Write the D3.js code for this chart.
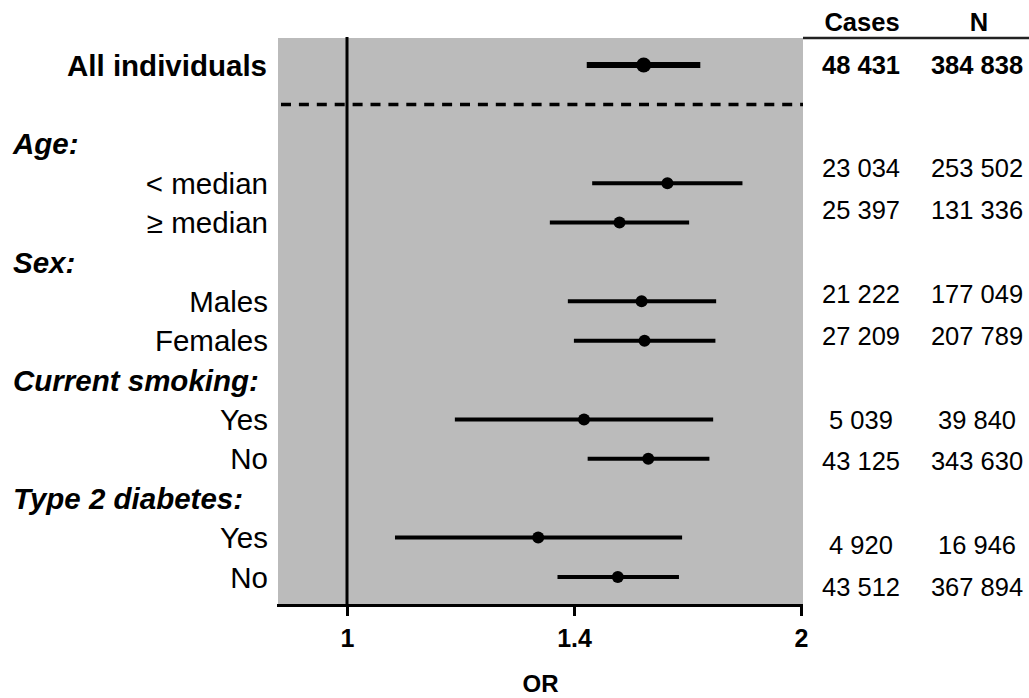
<!DOCTYPE html>
<html>
<head>
<meta charset="utf-8">
<script src="https://cdn.jsdelivr.net/npm/d3@7"></script>
<style>
  html, body { margin: 0; padding: 0; background: #fff; }
  svg { display: block; font-family: "Liberation Sans", Arial, sans-serif; }
</style>
</head>
<body>
<svg id="chart" width="1029" height="698"></svg>
<script>
// overall estimate
const overallLabel = 'All individuals';
const overallOR = [1.573, 1.442, 1.715]; // OR, lower, upper
const overallCases = 48431;
const overallN = 384838;

// subgroups
const groupLabels = ['Age:', 'Sex:', 'Current smoking:', 'Type 2 diabetes:'];
const subgroupLabels = ['< median', '\u2265 median', 'Males', 'Females', 'Yes', 'No', 'Yes', 'No'];
const subgroupGroup = [0, 0, 1, 1, 2, 2, 3, 3];
const orValues = [1.631, 1.516, 1.568, 1.575, 1.436, 1.584, 1.339, 1.512];
const ciLower = [1.454, 1.363, 1.401, 1.414, 1.179, 1.444, 1.076, 1.379];
const ciUpper = [1.829, 1.686, 1.757, 1.755, 1.749, 1.739, 1.668, 1.660];
const cases = [23034, 25397, 21222, 27209, 5039, 43125, 4920, 43512];
const totals = [253502, 131336, 177049, 207789, 39840, 343630, 16946, 367894];

// axis
const tickValues = [1, Math.SQRT2, 2];
const tickLabels = ['1', '1.4', '2'];
const axisTitle = 'OR';
const tableHeaders = ['Cases', 'N'];

const svg = d3.select('#chart');
const W = 1029;

const x = d3.scaleLog().domain([0.9, 2]).range([278, 801]);
const y = d3.scaleLinear().domain([0, 13]).range([65, 577]);      // label rows
const yTable = d3.scaleLinear().domain([3, 13]).range([168, 587]); // numbers drift a little
const panelTop = 38, panelBottom = 605, panelRight = 803;
const casesX = 861, nX = 977;
const labelSize = '29.5px', tableSize = '25.5px';

const fmt = d3.formatLocale({ decimal: '.', thousands: ' ', grouping: [3], currency: ['', ''] }).format(',d');

// subgroup rows -> row index
const subRow = subgroupLabels.map((d, i) => 3 + subgroupGroup[i] * 3 + (i % 2));

// gray panel
svg.append('rect')
    .attr('x', x(0.9)).attr('y', panelTop)
    .attr('width', panelRight - x(0.9)).attr('height', panelBottom - panelTop)
    .attr('fill', '#bbbbbb');

// dashed separator
svg.append('line')
    .attr('x1', x(0.9) + 3).attr('x2', panelRight)
    .attr('y1', y(1)).attr('y2', y(1))
    .attr('stroke', '#000').attr('stroke-width', 3.5)
    .attr('stroke-dasharray', '10,7.9');

// reference line at OR = 1
svg.append('line')
    .attr('x1', x(1)).attr('x2', x(1))
    .attr('y1', panelTop - 1).attr('y2', panelBottom)
    .attr('stroke', '#000').attr('stroke-width', 3);

// header rule for the table
svg.append('line')
    .attr('x1', panelRight).attr('x2', W)
    .attr('y1', panelTop).attr('y2', panelTop)
    .attr('stroke', '#222').attr('stroke-width', 2.5);

// x axis
const axis = svg.append('g')
    .attr('transform', `translate(0,${panelBottom})`)
    .call(d3.axisBottom(x).tickValues(tickValues).tickFormat((d, i) => tickLabels[i]).tickSize(11).tickSizeOuter(0));
axis.select('.domain').attr('stroke', '#000').attr('stroke-width', 3).attr('stroke-linecap', 'square');
axis.selectAll('.tick line').attr('stroke', '#000').attr('stroke-width', 3);
axis.selectAll('.tick text')
    .attr('y', 42).attr('dy', null)
    .attr('fill', '#000')
    .style('font-size', '25px').style('font-weight', 'bold')
    .style('font-family', '"Liberation Sans", Arial, sans-serif');

svg.append('text')
    .attr('x', (x(0.9) + panelRight) / 2).attr('y', 692)
    .attr('text-anchor', 'middle')
    .style('font-size', '24px').style('font-weight', 'bold')
    .text(axisTitle);

// overall row
svg.append('text')
    .attr('x', 267).attr('y', y(0)).attr('dy', '0.36em')
    .attr('text-anchor', 'end')
    .style('font-size', labelSize).style('font-weight', 'bold')
    .text(overallLabel);

svg.append('line')
    .attr('x1', x(overallOR[1])).attr('x2', x(overallOR[2]))
    .attr('y1', y(0)).attr('y2', y(0))
    .attr('stroke', '#000').attr('stroke-width', 6);
svg.append('circle')
    .attr('cx', x(overallOR[0])).attr('cy', y(0)).attr('r', 7.5)
    .attr('fill', '#000');

// group headers
svg.selectAll('text.group')
    .data(groupLabels)
    .join('text')
    .attr('class', 'group')
    .attr('x', 13).attr('y', (d, i) => y(2 + i * 3)).attr('dy', '0.36em')
    .style('font-size', labelSize).style('font-weight', 'bold').style('font-style', 'italic')
    .text(d => d);

// subgroup labels
svg.selectAll('text.sub')
    .data(subgroupLabels)
    .join('text')
    .attr('class', 'sub')
    .attr('x', 268).attr('y', (d, i) => y(subRow[i])).attr('dy', '0.36em')
    .attr('text-anchor', 'end')
    .style('font-size', labelSize)
    .text(d => d);

// CI whiskers
svg.selectAll('line.ci')
    .data(orValues)
    .join('line')
    .attr('class', 'ci')
    .attr('x1', (d, i) => x(ciLower[i])).attr('x2', (d, i) => x(ciUpper[i]))
    .attr('y1', (d, i) => y(subRow[i])).attr('y2', (d, i) => y(subRow[i]))
    .attr('stroke', '#000').attr('stroke-width', 4);

svg.selectAll('circle.pt')
    .data(orValues)
    .join('circle')
    .attr('class', 'pt')
    .attr('cx', d => x(d)).attr('cy', (d, i) => y(subRow[i])).attr('r', 6)
    .attr('fill', '#000');

// table
svg.selectAll('text.head')
    .data(tableHeaders)
    .join('text')
    .attr('class', 'head')
    .attr('x', (d, i) => i ? nX + 2 : casesX + 1).attr('y', 31)
    .attr('text-anchor', 'middle')
    .style('font-size', tableSize).style('font-weight', 'bold')
    .text(d => d);

[[overallCases, casesX], [overallN, nX]].forEach(([v, cx]) => {
    svg.append('text')
        .attr('x', cx).attr('y', y(0)).attr('dy', '0.36em')
        .attr('text-anchor', 'middle')
        .style('font-size', tableSize).style('font-weight', 'bold')
        .text(fmt(v));
});

svg.selectAll('text.cases')
    .data(cases)
    .join('text')
    .attr('class', 'cases')
    .attr('x', casesX).attr('y', (d, i) => yTable(subRow[i])).attr('dy', '0.36em')
    .attr('text-anchor', 'middle')
    .style('font-size', tableSize)
    .text(d => fmt(d));

svg.selectAll('text.tot')
    .data(totals)
    .join('text')
    .attr('class', 'tot')
    .attr('x', nX).attr('y', (d, i) => yTable(subRow[i])).attr('dy', '0.36em')
    .attr('text-anchor', 'middle')
    .style('font-size', tableSize)
    .text(d => fmt(d));
</script>
</body>
</html>
